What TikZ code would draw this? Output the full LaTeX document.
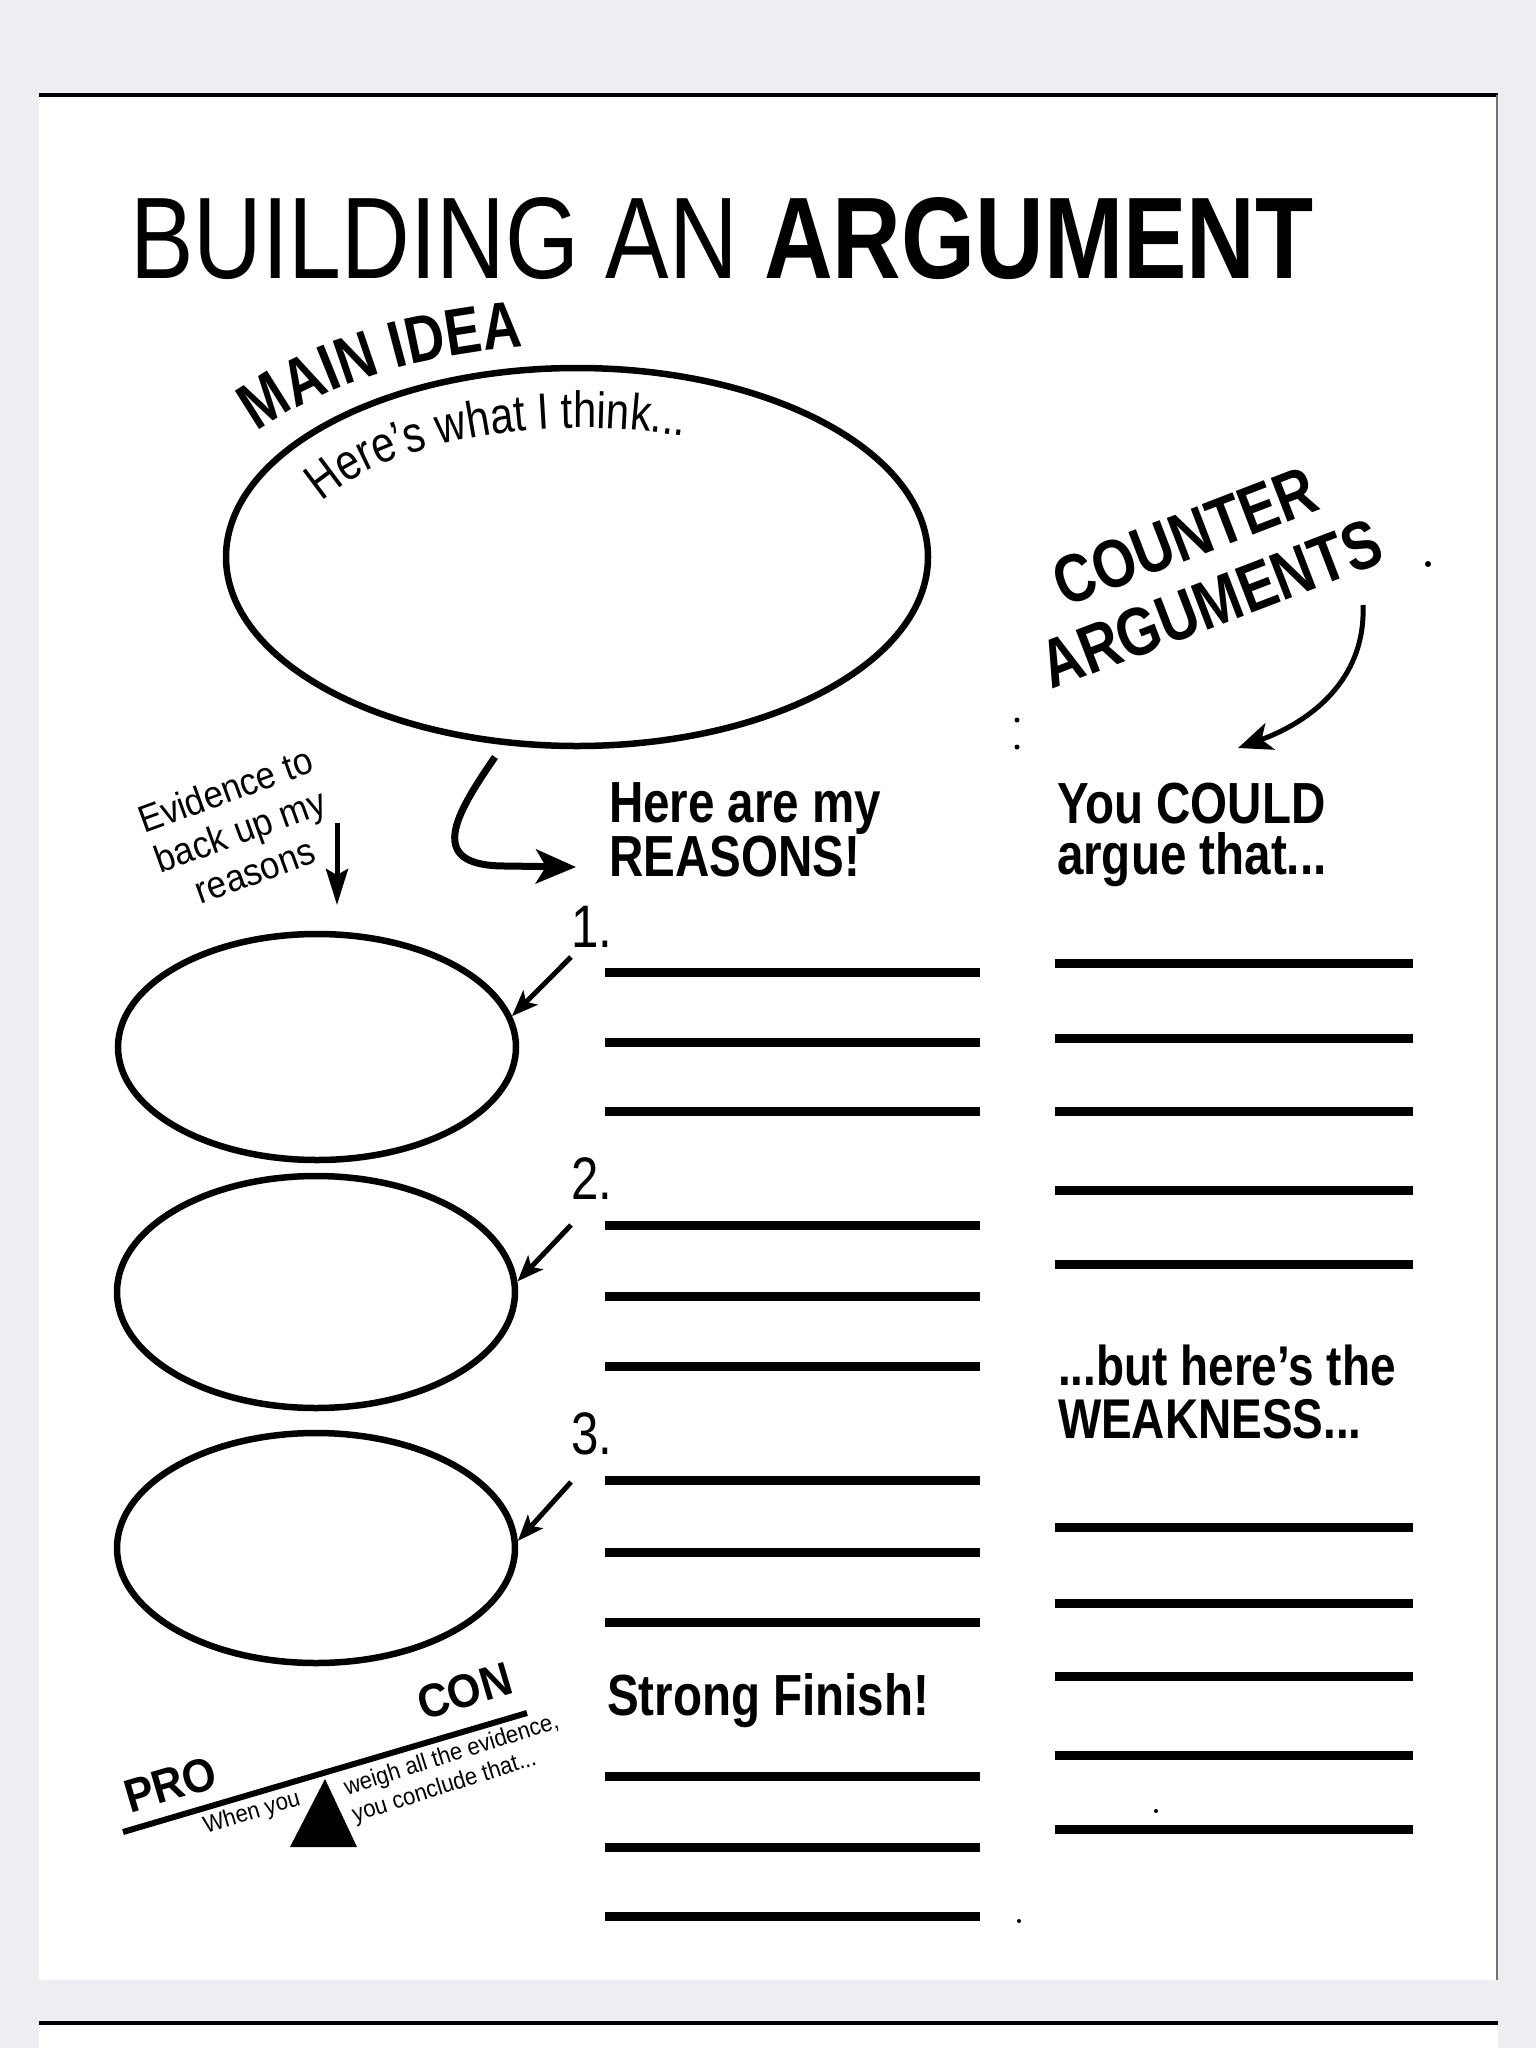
\documentclass[tikz,border=0pt]{standalone}
\usepackage{fontspec}
\setmainfont[FakeStretch=0.82]{Liberation Sans}
\newfontfamily\wf[FakeStretch=0.92]{Liberation Sans}
\usetikzlibrary{arrows.meta,decorations.text,shapes.geometric}
\definecolor{pagebg}{RGB}{238,238,242}
\begin{document}
\begin{tikzpicture}[x=1pt,y=-1pt,
  ov/.style={draw,ellipse,line width=6.5pt,inner sep=0},
  wline/.style={line width=9pt},
  arr/.style={line width=5pt,-{Stealth[length=26pt,width=20pt,inset=6pt]}},
  txt/.style={inner sep=0,outer sep=0},
  speck/.style={fill=black}]
\useasboundingbox (0,0) rectangle (1536,2048);
% page background
\fill[pagebg] (0,0) rectangle (1536,2048);
\fill[white] (39,94) rectangle (1498,1980);
\fill[white] (39,2022) rectangle (1498,2048);
\draw[line width=4pt] (39,95) -- (1498,95);
\draw[line width=4pt] (39,2023) -- (1498,2023);
\draw[line width=1.2pt,black!55] (1497,95) -- (1497,1980);

% title
\node[txt,anchor=base west,font=\fontsize{116}{120}\selectfont] (title) at (130,278) {BUILDING AN \textbf{ARGUMENT}};

% main idea
\node[ov,minimum width=702pt,minimum height=378pt] (main) at (577,557) {};
\path[decorate,decoration={text along path,text align=center,
  text={|\bfseries\fontsize{66}{66}\selectfont|MAIN IDEA}}]
  plot[domain=148:95,samples=60] ({577+395*cos(\x)},{557-212*sin(\x)});
\path[decorate,decoration={text along path,text align=center,
  text={|\fontsize{51}{51}\selectfont|Here’s what I think...}}]
  plot[domain=156:68,samples=80] ({582+290*cos(\x)},{560-132*sin(\x)});

% counter arguments
\node[txt,rotate=21,align=center,font=\bfseries\fontsize{68}{72}\selectfont] (counter) at (1198,570) {COUNTER\\ARGUMENTS};
\coordinate (c1) at (1363,605);
\coordinate (c2) at (1238,748);
\draw[line width=5pt,-{Stealth[length=34pt,width=28pt,inset=9pt]}] (c1) .. controls (1366,680) and (1310,722) .. (c2);
\fill[speck] (1428,564) circle (3pt);
\fill[speck] (1017,720) circle (2.5pt);
\fill[speck] (1017,747) circle (2.5pt);

% headings
\node[txt,anchor=north west,align=left,font=\bfseries\fontsize{58}{54}\selectfont] (reasons) at (609,783) {Here are my\\REASONS!};
\node[txt,anchor=north west,align=left,font=\bfseries\fontsize{58}{51}\selectfont] (could) at (1057,783) {You COULD\\argue that...};

% main -> reasons arrow
\coordinate (m1) at (495,757);
\coordinate (m2) at (576,867);
\draw[line width=7pt,-{Stealth[length=40pt,width=34pt,inset=10pt]}] (m1) .. controls (455,815) and (425,866) .. (505,866) -- (m2);

% evidence label
\node[txt,rotate=20,align=center,font=\wf\fontsize{38}{43}\selectfont] (evid) at (240,830) {Evidence to\\back up my\\reasons};
\coordinate (ea) at (337,823);
\coordinate (eb) at (337,905);
\draw[line width=5pt,-{Stealth[length=36pt,width=22pt,inset=6pt]}] (ea) -- (eb);

% evidence ellipses
\node[ov,minimum width=398pt,minimum height=226pt] (e1) at (317,1047) {};
\node[ov,minimum width=398pt,minimum height=232pt] (e2) at (316,1292) {};
\node[ov,minimum width=398pt,minimum height=230pt] (e3) at (316,1548) {};

% numbers
\node[txt,anchor=base west,font=\fontsize{60}{60}\selectfont] (n1) at (571,947) {1.};
\node[txt,anchor=base west,font=\fontsize{60}{60}\selectfont] (n2) at (571,1199) {2.};
\node[txt,anchor=base west,font=\fontsize{60}{60}\selectfont] (n3) at (571,1454) {3.};
\draw[arr] ([yshift=-10pt]n1.base west) -- (e1.9);
\draw[arr] ([yshift=-26pt]n2.base west) -- (e2.3);
\draw[arr] ([yshift=-28pt]n3.base west) -- (e3.2);

% reason lines
\foreach \yy in {972,1042,1111,1225,1296,1366,1480,1552,1622,1776,1847,1916}
  \draw[wline] (605,\yy) -- (980,\yy);
% counter lines
\foreach \yy in {963,1038,1111,1190,1264,1527,1603,1676,1755,1829}
  \draw[wline] (1055,\yy) -- (1413,\yy);

\node[txt,anchor=base west,font=\bfseries\fontsize{58}{58}\selectfont] (finish) at (607,1715) {Strong Finish!};
\node[txt,anchor=north west,align=left,font=\bfseries\fontsize{56}{53}\selectfont] (weak) at (1058,1345) {...but here’s the\\WEAKNESS...};

% balance
\draw[line width=6pt] (123,1832) -- (527,1713);
\fill (325,1779) -- (357,1847) -- (290,1847) -- cycle;
\node[txt,rotate=16.4,anchor=base west,font=\wf\bfseries\fontsize{47}{47}\selectfont] (pro) at (130,1813) {PRO};
\node[txt,rotate=16.4,anchor=base west,font=\wf\bfseries\fontsize{47}{47}\selectfont] (con) at (423,1720) {CON};
\node[txt,rotate=16.4,anchor=base west,font=\wf\fontsize{24}{24}\selectfont] (when) at (206,1833) {When you};
\node[txt,rotate=17.5,anchor=base west,font=\wf\fontsize{24}{24}\selectfont] (weigh) at (347,1795) {weigh all the evidence,};
\node[txt,rotate=17.5,anchor=base west,font=\wf\fontsize{24}{24}\selectfont] (concl) at (355,1822) {you conclude that...};
\fill[speck] (1156,1811) circle (2pt);
\fill[speck] (1019,1921) circle (2pt);
\end{tikzpicture}
\end{document}
